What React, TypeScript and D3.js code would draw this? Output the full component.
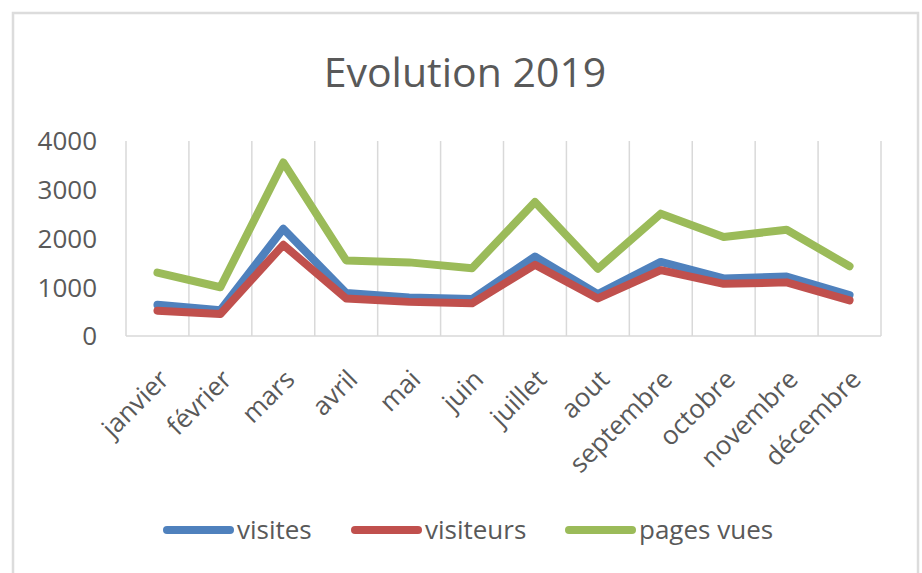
// App.tsx
// Excel-style line chart "Evolution 2019" drawn with D3
import React, { useEffect, useRef } from "react";
import * as d3 from "d3";

const months = [
  "janvier", "février", "mars", "avril", "mai", "juin",
  "juillet", "aout", "septembre", "octobre", "novembre", "décembre",
];
const visites = [640, 530, 2200, 880, 790, 760, 1630, 860, 1520, 1180, 1220, 840];
const visiteurs = [520, 450, 1870, 770, 700, 670, 1460, 770, 1350, 1070, 1100, 730];
const pagesVues = [1300, 1000, 3560, 1550, 1510, 1390, 2750, 1380, 2510, 2030, 2180, 1430];
const yTicks = [0, 1000, 2000, 3000, 4000];

const seriesNames = ["visites", "visiteurs", "pages vues"];
const seriesColors = ["#4F81BD", "#C0504D", "#9BBB59"];

const FONT = "'Open Sans', sans-serif";
const TEXT = "#595959";

export default function App() {
  const svgRef = useRef<SVGSVGElement>(null);

  useEffect(() => {
    if (!svgRef.current) return;
    const height = 573;
    const left = 126, right = 881, top = 141, bottom = 336;
    const svg = d3.select(svgRef.current);
    svg.selectAll("*").remove();

    // chart frame
    svg.append("rect")
      .attr("x", 13).attr("y", 13)
      .attr("width", 905).attr("height", height)
      .attr("fill", "#fff")
      .attr("stroke", "#dcdcdc")
      .attr("stroke-width", 2.5);

    // title
    svg.append("text")
      .attr("x", 465).attr("y", 87)
      .attr("text-anchor", "middle")
      .attr("font-family", FONT)
      .attr("font-size", 41)
      .attr("fill", TEXT)
      .text("Evolution 2019");

    const x = d3.scaleBand().domain(months).range([left, right]);
    const y = d3.scaleLinear().domain([0, 4000]).range([bottom, top]);

    // vertical gridlines at category boundaries
    const edges = months.map((m) => x(m) as number).concat([right]);
    svg.append("g")
      .selectAll("line")
      .data(edges)
      .enter()
      .append("line")
      .attr("x1", (d) => d).attr("x2", (d) => d)
      .attr("y1", top).attr("y2", bottom)
      .attr("stroke", "#d9d9d9")
      .attr("stroke-width", 1.5);

    // category axis line
    svg.append("line")
      .attr("x1", left).attr("x2", right)
      .attr("y1", bottom).attr("y2", bottom)
      .attr("stroke", "#d9d9d9")
      .attr("stroke-width", 1.5);

    // y tick labels
    svg.append("g")
      .selectAll("text")
      .data(yTicks)
      .enter()
      .append("text")
      .attr("x", 97)
      .attr("y", (d) => y(d))
      .attr("dy", "0.36em")
      .attr("text-anchor", "end")
      .attr("font-family", FONT)
      .attr("font-size", 26)
      .attr("fill", TEXT)
      .text((d) => String(d));

    // rotated month labels
    svg.append("g")
      .selectAll("text")
      .data(months)
      .enter()
      .append("text")
      .attr("transform", (d) => {
        const cx = (x(d) as number) + x.bandwidth() / 2;
        return `translate(${cx + 13},${381}) rotate(-45)`;
      })
      .attr("text-anchor", "end")
      .attr("font-family", FONT)
      .attr("font-size", 26)
      .attr("fill", TEXT)
      .text((d) => d);

    // lines
    const data = [visites, visiteurs, pagesVues];
    const line = d3.line<number>()
      .x((_, i) => (x(months[i]) as number) + x.bandwidth() / 2)
      .y((d) => y(d));
    data.forEach((vals, k) => {
      svg.append("path")
        .datum(vals)
        .attr("fill", "none")
        .attr("stroke", seriesColors[k])
        .attr("stroke-width", 8)
        .attr("stroke-linejoin", "round")
        .attr("stroke-linecap", "round")
        .attr("d", line);
    });

    // legend
    const legendX = [163, 351, 565];
    const legend = svg.append("g");
    seriesNames.forEach((name, k) => {
      legend.append("line")
        .attr("x1", legendX[k] + 4).attr("x2", legendX[k] + 67)
        .attr("y1", 530).attr("y2", 530)
        .attr("stroke", seriesColors[k])
        .attr("stroke-width", 8)
        .attr("stroke-linecap", "round");
      legend.append("text")
        .attr("x", legendX[k] + 74)
        .attr("y", 530)
        .attr("dy", "0.36em")
        .attr("font-family", FONT)
        .attr("font-size", 26)
        .attr("fill", TEXT)
        .text(name);
    });
  }, []);

  return (
    <svg
      ref={svgRef}
      width={922}
      height={573}
      style={{ position: "absolute", left: 0, top: 0, background: "#fff" }}
    />
  );
}
